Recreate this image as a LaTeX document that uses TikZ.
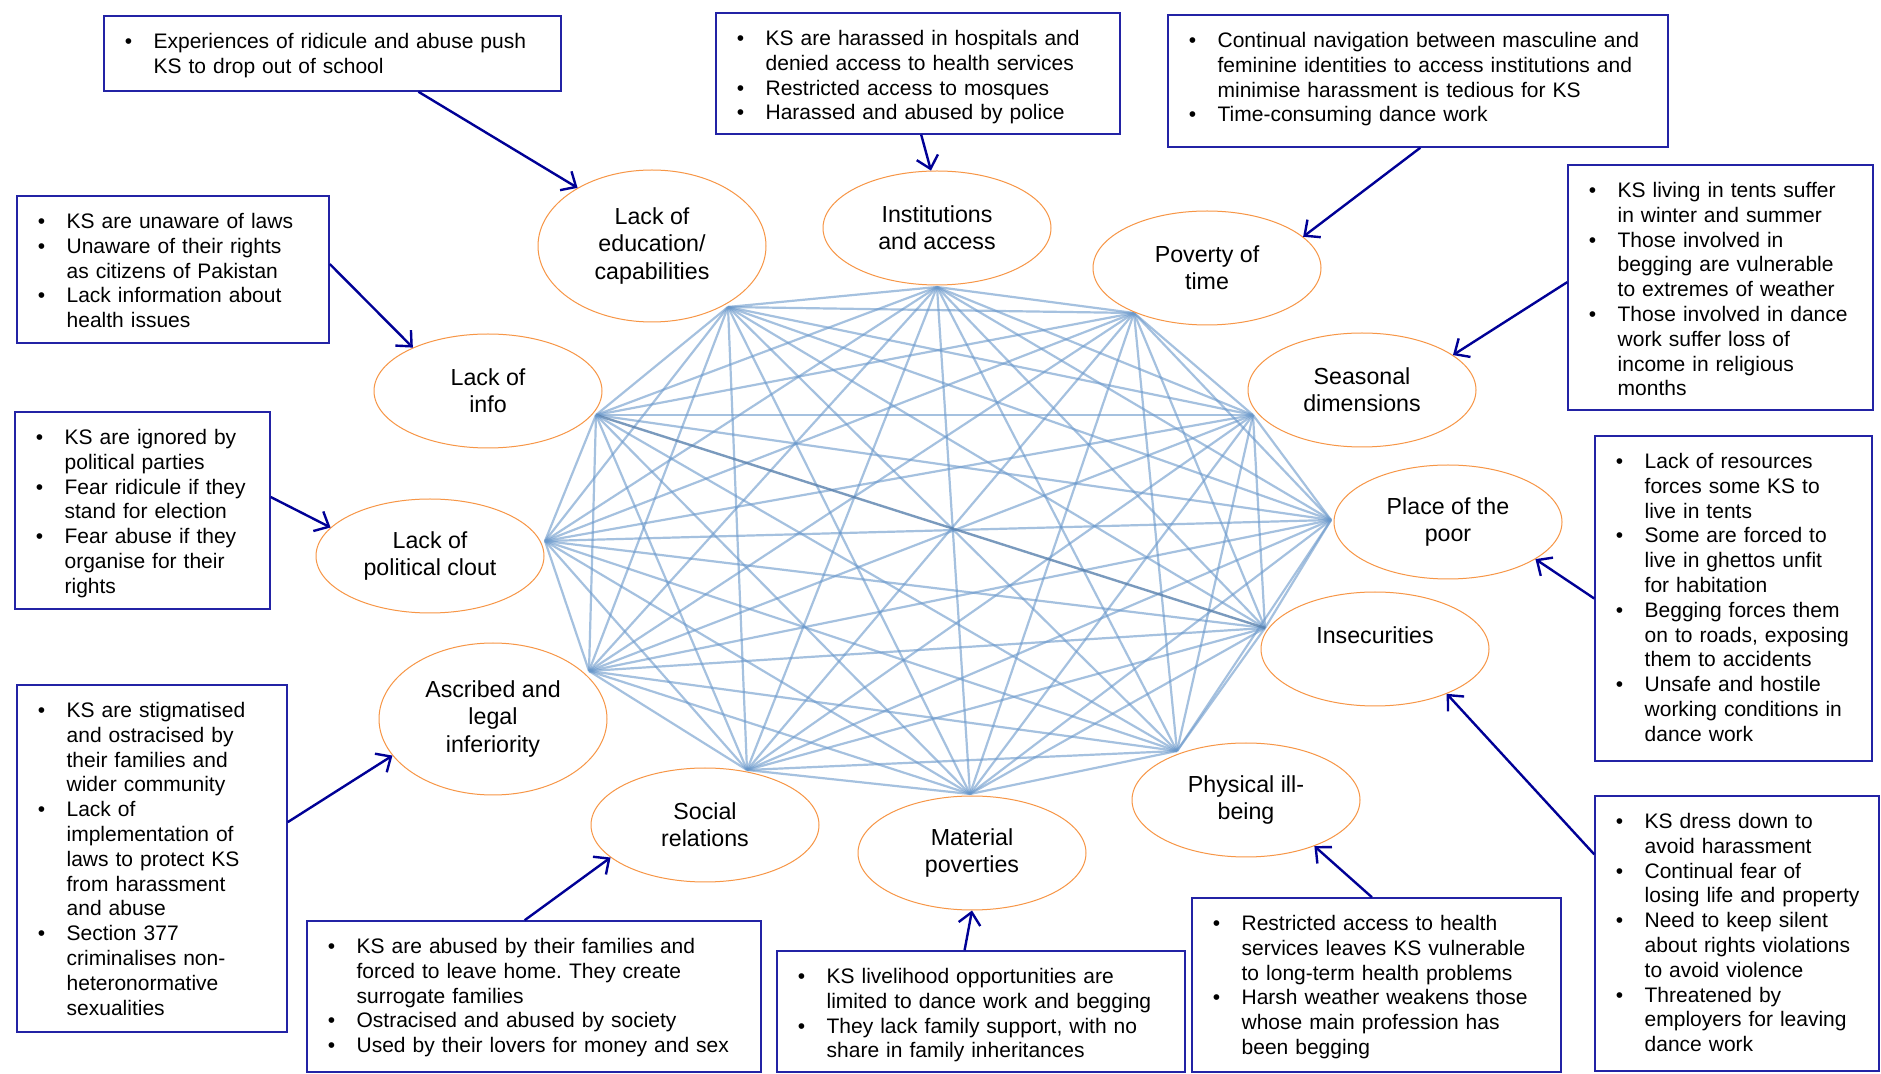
\documentclass[tikz,border=0pt]{standalone}
\usepackage{fontspec}
\setmainfont{Liberation Sans}
\usetikzlibrary{shapes.geometric,arrows.meta,fit}
\definecolor{navy}{RGB}{0,0,150}
\definecolor{boxblue}{RGB}{35,35,165}
\definecolor{ellorange}{RGB}{247,150,70}
\definecolor{netblue}{RGB}{105,152,203}
\frenchspacing
\newcommand{\bul}{\par\noindent\llap{\makebox[0pt]{\textbullet}\hspace{12.5pt}}}
\newcommand{\bstart}{\leftskip=25pt\parskip=0pt\relax}
\newcommand{\bstop}{\par}
\begin{document}
\begin{tikzpicture}[x=0.5pt,y=-0.5pt,
  ebox/.style={draw=boxblue, line width=0.75pt, inner sep=0pt},
  etext/.style={anchor=north west, inner sep=0pt, text width=300pt, align=left,
    font=\fontsize{10.5pt}{12.4pt}\selectfont, yshift=-4pt},
  dim/.style={ellipse, draw=ellorange, line width=0.5pt, inner sep=0pt,
    minimum width=114pt, minimum height=57pt, align=center,
    font=\fontsize{11.6pt}{13.7pt}\selectfont},
  tall/.style={minimum height=76pt},
  link/.style={draw=netblue, line width=1.1pt, opacity=0.6},
  strong/.style={draw=netblue!85!black, line width=1.2pt, opacity=0.8},
  arr/.style={draw=navy, line width=1.2pt, -{Straight Barb[length=6pt,width=11pt]}}
]
\useasboundingbox (0,0) rectangle (1881,1074);
\fill[white] (0,0) rectangle (1881,1074);

% network vertices
\coordinate (v1) at (728,307);
\coordinate (v2) at (937,287);
\coordinate (v3) at (1134,313);
\coordinate (v4) at (1253,415);
\coordinate (v5) at (1331,520);
\coordinate (v6) at (1265,628);
\coordinate (v7) at (1177,751);
\coordinate (v8) at (970,794);
\coordinate (v9) at (747,770);
\coordinate (v10) at (589,671);
\coordinate (v11) at (545,541);
\coordinate (v12) at (596,415);

\foreach \i [evaluate=\i as \k using int(\i+1)] in {1,...,11}{
  \foreach \j in {\k,...,12}{
    \pgfmathtruncatemacro{\isstrong}{(\i==6)&&(\j==12)}
    \ifnum\isstrong=1
      \draw[strong] (v\i) -- (v\j);
    \else
      \draw[link] (v\i) -- (v\j);
    \fi
  }
}

% dimension ellipses
\node[dim,tall] (eEdu) at (652,246) {Lack of\\education/\\capabilities};
\node[dim] (eInst) at (937,228) {Institutions\\and access};
\node[dim] (ePov) at (1207,268) {Poverty of\\time};
\node[dim] (eSeas) at (1362,390) {Seasonal\\dimensions};
\node[dim] (ePlace) at (1448,522) {Place of the\\poor};
\node[dim] (eInsec) at (1375,649) {Insecurities\\\mbox{}};
\node[dim] (ePhys) at (1246,800) {Physical ill-\\being};
\node[dim] (eMat) at (972,853) {Material\\poverties};
\node[dim] (eSoc) at (705,825) {Social\\relations};
\node[dim,tall] (eAscr) at (493,719) {Ascribed and\\legal\\inferiority};
\node[dim] (ePol) at (430,556) {Lack of\\political clout};
\node[dim] (eInfo) at (488,391) {Lack of\\info};

% boxes
\node[ebox, fit={(104,16) (561,91)}] (bEdu) {};
\node[etext] (tEdu) at (bEdu.north west) {\bstart
\bul Experiences of ridicule and abuse push\\KS to drop out of school\bstop};

\node[ebox, fit={(17,196) (329,343)}] (bInfo) {};
\node[etext] (tInfo) at (bInfo.north west) {\bstart
\bul KS are unaware of laws
\bul Unaware of their rights\\as citizens of Pakistan
\bul Lack information about\\health issues\bstop};

\node[ebox, fit={(716,13) (1120,134)}] (bInst) {};
\node[etext] (tInst) at (bInst.north west) {\bstart
\bul KS are harassed in hospitals and\\denied access to health services
\bul Restricted access to mosques
\bul Harassed and abused by police\bstop};

\node[ebox, fit={(1168,15) (1668,147)}] (bPov) {};
\node[etext] (tPov) at (bPov.north west) {\bstart
\bul Continual navigation between masculine and\\feminine identities to access institutions and\\minimise harassment is tedious for KS
\bul Time-consuming dance work\bstop};

\node[ebox, fit={(1568,165) (1873,410)}] (bSeas) {};
\node[etext] (tSeas) at (bSeas.north west) {\bstart
\bul KS living in tents suffer\\in winter and summer
\bul Those involved in\\begging are vulnerable\\to extremes of weather
\bul Those involved in dance\\work suffer loss of\\income in religious\\months\bstop};

\node[ebox, fit={(1595,436) (1872,761)}] (bPlace) {};
\node[etext] (tPlace) at (bPlace.north west) {\bstart
\bul Lack of resources\\forces some KS to\\live in tents
\bul Some are forced to\\live in ghettos unfit\\for habitation
\bul Begging forces them\\on to roads, exposing\\them to accidents
\bul Unsafe and hostile\\working conditions in\\dance work\bstop};

\node[ebox, fit={(1595,796) (1879,1071)}] (bInsec) {};
\node[etext] (tInsec) at (bInsec.north west) {\bstart
\bul KS dress down to\\avoid harassment
\bul Continual fear of\\losing life and property
\bul Need to keep silent\\about rights violations\\to avoid violence
\bul Threatened by\\employers for leaving\\dance work\bstop};

\node[ebox, fit={(1192,898) (1561,1072)}] (bPhys) {};
\node[etext] (tPhys) at (bPhys.north west) {\bstart
\bul Restricted access to health\\services leaves KS vulnerable\\to long-term health problems
\bul Harsh weather weakens those\\whose main profession has\\been begging\bstop};

\node[ebox, fit={(777,951) (1185,1072)}] (bMat) {};
\node[etext] (tMat) at (bMat.north west) {\bstart
\bul KS livelihood opportunities are\\limited to dance work and begging
\bul They lack family support, with no\\share in family inheritances\bstop};

\node[ebox, fit={(307,921) (761,1072)}] (bSoc) {};
\node[etext] (tSoc) at (bSoc.north west) {\bstart
\bul KS are abused by their families and\\forced to leave home. They create\\surrogate families
\bul Ostracised and abused by society
\bul Used by their lovers for money and sex\bstop};

\node[ebox, fit={(17,685) (287,1032)}] (bAscr) {};
\node[etext] (tAscr) at (bAscr.north west) {\bstart
\bul KS are stigmatised\\and ostracised by\\their families and\\wider community
\bul Lack of\\implementation of\\laws to protect KS\\from harassment\\and abuse
\bul Section 377\\criminalises non-\\heteronormative\\sexualities\bstop};

\node[ebox, fit={(15,412) (270,609)}] (bPol) {};
\node[etext] (tPol) at (bPol.north west) {\bstart
\bul KS are ignored by\\political parties
\bul Fear ridicule if they\\stand for election
\bul Fear abuse if they\\organise for their\\rights\bstop};

% arrows
\draw[arr] (bEdu.-24) -- (eEdu.142);
\draw[arr] (bInfo.2) -- (eInfo.150);
\draw[arr] (bInst.-87) -- (eInst.96);
\draw[arr] (bPov.-88) -- (ePov.18);
\draw[arr] (bSeas.178) -- (eSeas.21);
\draw[arr] (bPlace.west) -- (ePlace.-23);
\draw[arr] (bInsec.151) -- (eInsec.-32);
\draw[arr] (bPhys.93) -- (ePhys.-34);
\draw[arr] (bMat.105) -- (eMat.south);
\draw[arr] (bSoc.97) -- (eSoc.199);
\draw[arr] (bAscr.15) -- (eAscr.200);
\draw[arr] (bPol.6) -- (ePol.164);
\end{tikzpicture}
\end{document}
